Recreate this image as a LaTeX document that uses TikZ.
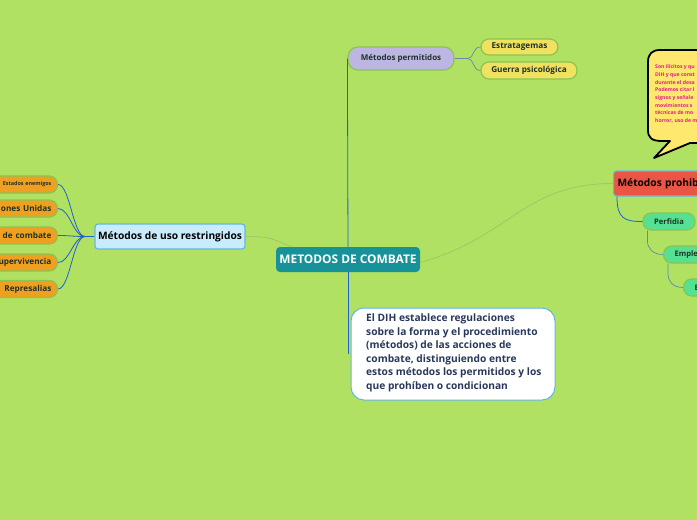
\documentclass[tikz,border=0pt]{standalone}
\usepackage{fontspec}
\setmainfont{Open Sans}
\definecolor{bg}{RGB}{176,225,98}
\definecolor{teal}{RGB}{22,146,152}
\definecolor{lav}{RGB}{189,182,227}
\definecolor{yel}{RGB}{240,226,96}
\definecolor{gborder}{RGB}{138,196,82}
\definecolor{orng}{RGB}{240,160,32}
\definecolor{lblue}{RGB}{200,236,252}
\definecolor{bborder}{RGB}{96,184,226}
\definecolor{redf}{RGB}{234,85,70}
\definecolor{grn}{RGB}{86,224,146}
\definecolor{navy}{RGB}{40,56,90}
\definecolor{darkt}{RGB}{30,50,40}
\definecolor{conn}{RGB}{32,96,208}
\definecolor{conn2}{RGB}{96,140,170}
\definecolor{faint}{RGB}{160,200,100}
\definecolor{mag}{RGB}{226,32,140}
\definecolor{callf}{RGB}{255,232,110}
\tikzset{
  pill/.style={draw=gborder, line width=1.2pt, rounded corners=8pt, inner sep=0pt, font=\bfseries},
  leftitem/.style={pill, fill=orng, anchor=east, minimum height=17pt, text width=84pt, align=right, inner xsep=6pt, font=\bfseries\fontsize{8.2}{9}\selectfont, text=darkt},
  bconn/.style={draw=conn, line width=0.8pt},
  gconn/.style={draw=conn2, line width=0.7pt},
  fconn/.style={draw=faint, line width=0.8pt},
}
\begin{document}
\begin{tikzpicture}[x=1pt,y=-1pt]
\fill[bg] (0,0) rectangle (697,520);
\useasboundingbox (0,0) rectangle (697,520);
\clip (0,0) rectangle (697,520);

% central
\node[fill=teal, rounded corners=4pt, minimum width=144pt, minimum height=25pt, inner sep=0pt, text=white, font=\bfseries\fontsize{11.9}{13}\selectfont] (c) at (348,259.5) {METODOS DE COMBATE};

% permitidos
\node[pill, fill=lav, minimum width=106pt, minimum height=23pt, rounded corners=10pt, text=darkt, font=\bfseries\fontsize{8}{9}\selectfont] (p) at (401,58.5) {Métodos permitidos};
\node[pill, fill=yel, minimum width=77pt, minimum height=16pt, text=darkt, font=\bfseries\fontsize{8.2}{9}\selectfont] (e1) at (519.5,47) {Estratagemas};
\node[pill, fill=yel, minimum width=96pt, minimum height=17pt, text=darkt, font=\bfseries\fontsize{8.2}{9}\selectfont] (e2) at (529,70.5) {Guerra psicológica};

% restringidos
\node[fill=lblue, draw=bborder, line width=1.2pt, rounded corners=3pt, minimum width=150pt, minimum height=25pt, inner sep=0pt, font=\bfseries\fontsize{10.2}{12}\selectfont] (r) at (170,236.5) {Métodos de uso restringidos};

\node[leftitem, font=\bfseries\fontsize{5.4}{6}\selectfont] (l1) at (58,184.5) {Estados enemigos};
\node[leftitem] (l2) at (58,208.5) {ones Unidas};
\node[leftitem] (l3) at (58,235.5) {de combate};
\node[leftitem] (l4) at (58,262.5) {upervivencia};
\node[leftitem] (l5) at (58,289) {Represalias};

% prohibidos
\node[fill=redf, draw=bborder, line width=1.2pt, rounded corners=3pt, anchor=west, minimum height=25pt, text width=110pt, align=left, inner xsep=4pt, inner ysep=0pt, font=\bfseries\fontsize{10.2}{12}\selectfont, text=black] (pr) at (613,183.5) {Métodos prohibi};
\node[pill, fill=grn, minimum width=52pt, minimum height=17pt, text=darkt, font=\bfseries\fontsize{7.6}{8}\selectfont] (pf) at (669,221.5) {Perfidia};
\node[pill, fill=grn, anchor=west, minimum height=17pt, text width=60pt, align=left, inner xsep=11pt, text=darkt, font=\bfseries\fontsize{7.6}{8}\selectfont] (em) at (663,254.5) {Emple};
\node[pill, fill=grn, anchor=west, minimum height=17pt, text width=40pt, align=left, inner xsep=11pt, text=darkt, font=\bfseries\fontsize{7.6}{8}\selectfont] (ee) at (683,287.5) {E};

% description
\node[fill=white, draw=bborder, line width=1pt, rounded corners=13pt, minimum width=204pt, minimum height=92pt, inner sep=0pt] (d) at (453,354) {};
\node[anchor=north west, align=left, inner sep=0pt, text=navy, font=\bfseries\fontsize{10.2}{13.5}\selectfont] (dt) at (366,314) {El DIH establece regulaciones\\sobre la forma y el procedimiento\\(métodos) de las acciones de\\combate, distinguiendo entre\\estos métodos los permitidos y los\\que prohíben o condicionan};

% callout
\coordinate (ctip) at (654,158);
\filldraw[fill=callf, draw=black, line width=1.8pt, line join=round] (720,50) -- (660,50) .. controls (652,50) and (648,54) .. (648,62) -- (648,130) .. controls (648,138) and (652,141) .. (662,141) -- (670,141) -- (ctip) -- (690,143) -- (720,143);
\node[anchor=north west, align=left, inner sep=0pt, text=mag, font=\bfseries\fontsize{5.1}{7.7}\selectfont] (ct) at (655,64.5) {Son ilícitos y qu\\DIH y que const\\durante el desa\\Podemos citar l\\signos y señale\\movimientos s\\técnicas de mo\\horror, uso de m};

% connectors
\draw[bconn] (c.north) -- (p.west);
\draw[bconn] (c.south) -- (c.south |- d.west);
\coordinate (pfork) at (468,58.5);
\draw[gconn] (p.east) -- (pfork);
\draw[gconn] (pfork) .. controls +(6,0) and +(-8,0) .. (e1.west);
\draw[gconn] (pfork) .. controls +(6,0) and +(-8,0) .. (e2.west);

\draw[fconn] ([xshift=16pt]c.north west) .. controls +(-20,-8) and +(25,0) .. (r.east);
\draw[fconn] ([yshift=-3pt]c.east) .. controls +(90,-25) and +(-90,0) .. (pr.west);

\coordinate (rfork) at (85,236.5);
\draw[bconn] (r.west) -- (rfork);
\foreach \n in {l1,l2,l3,l4,l5}{
  \draw[bconn] (rfork) .. controls +(-12,0) and +(12,0) .. (\n.east);
}

\draw[bconn] ([xshift=4pt]pr.south west) .. controls +(0,22) and +(-18,0) .. (pf.west);
\draw[gconn] ([xshift=5pt]pf.south west) -- ++(0,10) .. controls +(0,8) and +(-10,0) .. (em.west);
\draw[gconn] ([xshift=5pt]em.south west) -- ++(0,10) .. controls +(0,8) and +(-10,0) .. (ee.west);
\end{tikzpicture}
\end{document}
